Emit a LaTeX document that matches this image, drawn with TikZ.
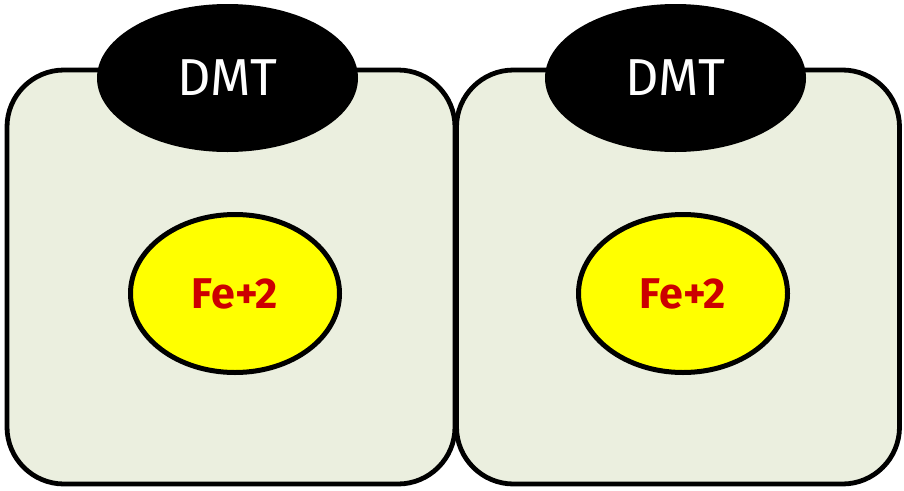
\documentclass[tikz,border=0pt]{standalone}
\usepackage{fontspec}
\setmainfont{Fira Sans}
\usetikzlibrary{shapes.geometric}
\definecolor{cellfill}{RGB}{235,239,223}
\definecolor{ionred}{RGB}{204,0,0}
\definecolor{ionfill}{RGB}{255,255,0}
\begin{document}
\begin{tikzpicture}[x=1pt,y=-1pt,
  cell/.style={rectangle, draw=black, line width=4.8pt, fill=cellfill,
    rounded corners=57pt, inner sep=0pt, minimum height=414pt},
  transporter/.style={ellipse, fill=black, text=white, inner sep=0pt,
    minimum width=261pt, minimum height=148pt,
    font=\fontsize{52}{52}\selectfont},
  ion/.style={ellipse, draw=black, line width=5pt, fill=ionfill, text=ionred,
    inner sep=0pt, minimum width=209pt, minimum height=158pt,
    font=\fontsize{43}{43}\selectfont\bfseries}]
\useasboundingbox (0,0) rectangle (904,490);
% two adjacent cells
\node[cell, minimum width=448pt] (cellL) at (231,277) {};
\node[cell, minimum width=443pt] (cellR) at (678,277) {};
% transporters sitting on the top edges
\node[transporter] (dmtL) at (227.5,78) {DMT};
\node[transporter] (dmtR) at (675.5,78) {DMT};
% iron ions inside the cells
\node[ion] (feL) at (235,293.5) {Fe+2};
\node[ion] (feR) at (683,293.5) {Fe+2};
\end{tikzpicture}
\end{document}
